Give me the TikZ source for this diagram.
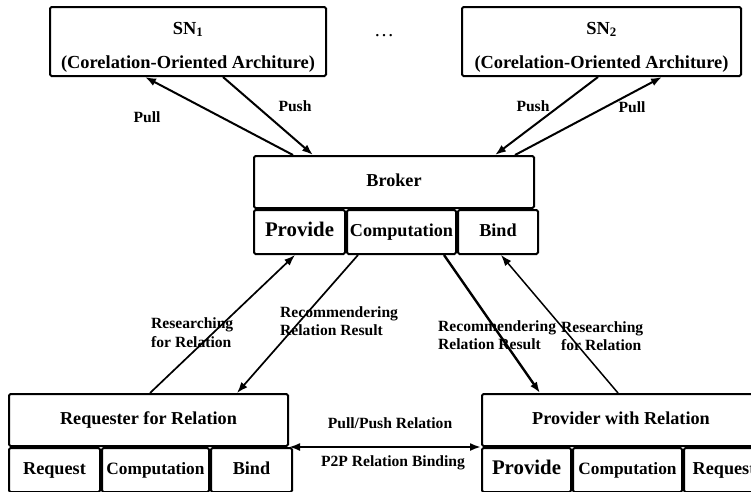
\documentclass[tikz,border=0pt]{standalone}
\usepackage{fontspec}
\setmainfont{Liberation Serif}
\usetikzlibrary{arrows.meta}

\begin{document}
\begin{tikzpicture}[x=1pt, y=-1pt, >={Latex[length=11pt,width=8pt]}] % y goes down
\tikzstyle{box} = [draw, line width=2pt, rounded corners=1.5pt, inner sep=0pt] % frame of a block
\tikzstyle{head} = [box, anchor=north west, minimum height=52pt, text height=12pt, text depth=4pt, font=\fontsize{18.2}{22}\selectfont\bfseries] % upper part of a block
\tikzstyle{cell} = [box, anchor=north west, minimum height=44pt, text height=12pt, text depth=4pt, font=\fontsize{18.2}{22}\selectfont\bfseries] % small part under the title
\tikzstyle{big} = [font=\fontsize{20.8}{24}\selectfont\bfseries] % larger "Provide"
\tikzstyle{smaller} = [font=\fontsize{17.3}{20}\selectfont\bfseries]
\tikzstyle{title} = [anchor=base, inner sep=0pt, font=\fontsize{18.4}{22}\selectfont\bfseries]
\tikzstyle{lbl} = [inner sep=0pt, align=left, font=\fontsize{15.6}{18}\selectfont\bfseries] % arrow labels
\tikzstyle{link} = [->, line width=1.7pt]

\useasboundingbox (0,0) rectangle (751,491);

% social networks
\node[box, anchor=north west, minimum width=276pt, minimum height=69pt] (sn1) at (49,6) {};
\node[title] (sn1 name) at ([yshift=-28pt]sn1.north) {SN\textsubscript{1}};
\node[title] (sn1 arch) at ([yshift=-62pt]sn1.north) {(Corelation-Oriented Architure)};
\node[box, anchor=north west, minimum width=279pt, minimum height=69pt] (sn2) at (461,6) {};
\node[title] (sn2 name) at ([yshift=-28pt]sn2.north) {SN\textsubscript{2}};
\node[title] (sn2 arch) at ([yshift=-62pt]sn2.north) {(Corelation-Oriented Architure)};
\node[font=\fontsize{20}{22}\selectfont] (dots) at (384,36) {\textellipsis};

% broker
\node[head, minimum width=280pt] (broker) at (253,155) {Broker};
\node[cell, big, minimum width=91pt] (bprov) at (broker.south west) {Provide};
\node[cell, minimum width=109pt] (bcomp) at (bprov.north east) {Computation};
\node[cell, minimum width=80pt] (bbind) at (bcomp.north east) {Bind};

% requester
\node[head, minimum width=279pt] (req) at (8,393) {Requester for Relation};
\node[cell, minimum width=91pt] (rreq) at (req.south west) {Request};
\node[cell, smaller, minimum width=107pt] (rcomp) at (rreq.north east) {Computation};
\node[cell, minimum width=81pt] (rbind) at (rcomp.north east) {Bind};

% provider
\node[head, minimum width=278pt] (prov) at (481,393) {Provider with Relation};
\node[cell, big, minimum width=89pt] (pprov) at (prov.south west) {Provide};
\node[cell, smaller, minimum width=109pt] (pcomp) at (pprov.north east) {Computation};
\node[cell, minimum width=80pt] (preq) at (pcomp.north east) {Request};

% pull / push between broker and networks
\draw[link, line width=2pt] ([xshift=40pt]broker.north west) -- ([xshift=96pt]sn1.south west);
\draw[link, line width=2pt] ([xshift=174pt]sn1.south west) -- ([xshift=60pt]broker.north west);
\draw[link, line width=2pt] ([xshift=137pt]sn2.south west) -- ([xshift=242pt]broker.north west);
\draw[link, line width=2pt] ([xshift=262pt]broker.north west) -- ([xshift=201pt]sn2.south west);
\node[lbl] (pull1) at (147,117) {Pull};
\node[lbl] (push1) at (295,106) {Push};
\node[lbl] (push2) at (533,106) {Push};
\node[lbl] (pull2) at (632,107) {Pull};

% requests and results
\draw[link] ([xshift=142pt]req.north west) -- ([xshift=42pt]bprov.south west);
\draw[link] ([xshift=12pt]bcomp.south west) -- ([xshift=229pt]req.north west);
\draw[link, line width=2.4pt] ([xshift=98pt]bcomp.south west) -- ([xshift=59pt]prov.north west);
\draw[link, line width=1.5pt] ([xshift=137pt]prov.north west) -- ([xshift=44pt]bbind.south west);
\node[lbl, anchor=west] (ask1) at (151,333) {Researching\\[1pt]for Relation};
\node[lbl, anchor=west] (res1) at (280,321) {Recommendering\\Relation Result};
\node[lbl, anchor=west] (res2) at (438,335) {Recommendering\\Relation Result};
\node[lbl, anchor=west] (ask2) at (561,336) {Researching\\for Relation};

% peer to peer
\draw[<->, line width=2pt] (req.south east) -- (prov.south west);
\node[lbl] (pp) at (390,423) {Pull/Push Relation};
\node[lbl] (bind) at (393,463) {P2P Relation Binding};
\end{tikzpicture}
\end{document}
